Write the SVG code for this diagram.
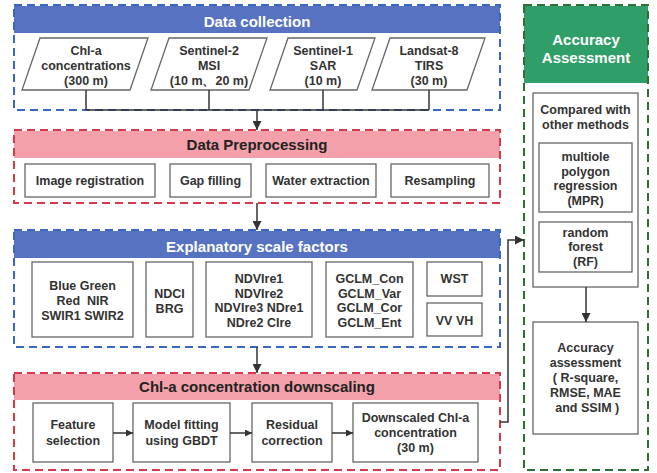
<svg xmlns="http://www.w3.org/2000/svg" width="657" height="473" viewBox="0 0 657 473">
<defs>
<style>
.bg{fill:#ffffff}
.dblue{fill:none;stroke:#3a66c4;stroke-width:2;stroke-dasharray:8,5}
.dred{fill:none;stroke:#d63a4a;stroke-width:2;stroke-dasharray:8,5}
.dgreen{fill:none;stroke:#2d7035;stroke-width:2;stroke-dasharray:8,5}
.hblue{fill:#5672c1}
.hpink{fill:#f3a0ab}
.hgreen{fill:#2f9e68}
.box{fill:#ffffff;stroke:#666666;stroke-width:1.3}
.t{font-family:"Liberation Sans",Arial,sans-serif;font-weight:bold;font-size:12.5px;fill:#333333;text-anchor:middle}
.hw{font-family:"Liberation Sans",Arial,sans-serif;font-weight:bold;font-size:15px;fill:#ffffff;text-anchor:middle}
.hk{font-family:"Liberation Sans",Arial,sans-serif;font-weight:bold;font-size:15px;fill:#222222;text-anchor:middle}
.ln{fill:none;stroke:#333333;stroke-width:1.5}
</style>
<marker id="ah" viewBox="0 0 10 10" refX="10" refY="5" markerWidth="7" markerHeight="7" markerUnits="userSpaceOnUse" orient="auto"><path d="M0,0 L10,5 L0,10 z" fill="#333333"/></marker>
<marker id="ahb" viewBox="0 0 10 10" refX="10" refY="5" markerWidth="9" markerHeight="9" markerUnits="userSpaceOnUse" orient="auto"><path d="M0,0 L10,5 L0,10 z" fill="#333333"/></marker>
</defs>
<rect class="bg" x="0" y="0" width="657" height="473"/>

<!-- Section 1: Data collection -->
<g id="data-collection">
<rect class="hblue" x="14" y="6" width="486" height="27"/>
<rect class="dblue" x="14" y="5" width="486" height="105"/>
<text class="hw" x="257" y="27">Data collection</text>
</g>
<g id="chla-conc">
<polygon class="box" points="40,38 148,38 130,90 22,90"/>
<text class="t" x="86" y="55">Chl-a</text>
<text class="t" x="86" y="70">concentrations</text>
<text class="t" x="86" y="85">(300 m)</text>
</g>
<g id="sentinel2">
<polygon class="box" points="169,38 267,38 249,90 151,90"/>
<text class="t" x="209" y="55">Sentinel-2</text>
<text class="t" x="209" y="70">MSI</text>
<text class="t" x="209" y="85">(10 m、20 m)</text>
</g>
<g id="sentinel1">
<polygon class="box" points="288,38 375,38 357,90 270,90"/>
<text class="t" x="323" y="55">Sentinel-1</text>
<text class="t" x="323" y="70">SAR</text>
<text class="t" x="323" y="85">(10 m)</text>
</g>
<g id="landsat8">
<polygon class="box" points="390,38 485,38 467,90 372,90"/>
<text class="t" x="429" y="55">Landsat-8</text>
<text class="t" x="429" y="70">TIRS</text>
<text class="t" x="429" y="85">(30 m)</text>
</g>

<!-- Section 2: Data Preprocessing -->
<g id="data-preprocessing">
<rect class="hpink" x="14" y="131" width="486" height="27"/>
<rect class="dred" x="14" y="130" width="486" height="73"/>
<text class="hk" x="257" y="150">Data Preprocessing</text>
</g>
<g id="image-registration">
<rect class="box" x="25" y="164" width="130" height="33"/>
<text class="t" x="90" y="185">Image registration</text>
</g>
<g id="gap-filling">
<rect class="box" x="170" y="164" width="81" height="33"/>
<text class="t" x="210.5" y="185">Gap filling</text>
</g>
<g id="water-extraction">
<rect class="box" x="266" y="164" width="110" height="33"/>
<text class="t" x="321" y="185">Water extraction</text>
</g>
<g id="resampling">
<rect class="box" x="391" y="164" width="98" height="33"/>
<text class="t" x="440" y="185">Resampling</text>
</g>

<!-- Section 3: Explanatory scale factors -->
<g id="explanatory-scale-factors">
<rect class="hblue" x="14" y="231" width="486" height="27"/>
<rect class="dblue" x="14" y="230" width="486" height="117"/>
<text class="hw" x="257" y="252">Explanatory scale factors</text>
</g>
<g id="bands">
<rect class="box" x="32" y="262" width="101" height="75"/>
<text class="t" x="82.5" y="290">Blue Green</text>
<text class="t" x="82.5" y="305" xml:space="preserve">Red  NIR</text>
<text class="t" x="82.5" y="320">SWIR1 SWIR2</text>
</g>
<g id="ndci-brg">
<rect class="box" x="146" y="262" width="47" height="75"/>
<text class="t" x="169.5" y="298">NDCI</text>
<text class="t" x="169.5" y="313">BRG</text>
</g>
<g id="red-edge">
<rect class="box" x="206" y="262" width="106" height="75"/>
<text class="t" x="259" y="283">NDVIre1</text>
<text class="t" x="259" y="298">NDVIre2</text>
<text class="t" x="259" y="312">NDVIre3 NDre1</text>
<text class="t" x="259" y="327">NDre2 CIre</text>
</g>
<g id="glcm">
<rect class="box" x="326" y="262" width="87" height="75"/>
<text class="t" x="369.5" y="283">GCLM_Con</text>
<text class="t" x="369.5" y="298">GCLM_Var</text>
<text class="t" x="369.5" y="312">GCLM_Cor</text>
<text class="t" x="369.5" y="327">GCLM_Ent</text>
</g>
<g id="wst">
<rect class="box" x="427" y="262" width="55" height="34"/>
<text class="t" x="454.5" y="283">WST</text>
</g>
<g id="vv-vh">
<rect class="box" x="427" y="303" width="55" height="33"/>
<text class="t" x="454.5" y="325">VV VH</text>
</g>

<!-- Section 4: Chl-a concentration downscaling -->
<g id="downscaling">
<rect class="hpink" x="14" y="374" width="486" height="26"/>
<rect class="dred" x="14" y="373" width="486" height="97"/>
<text class="hk" x="257" y="392">Chl-a concentration downscaling</text>
</g>
<g id="feature-selection">
<rect class="box" x="33" y="403" width="80" height="59"/>
<text class="t" x="73" y="429">Feature</text>
<text class="t" x="73" y="445">selection</text>
</g>
<g id="model-fitting">
<rect class="box" x="133" y="403" width="97" height="59"/>
<text class="t" x="181.5" y="429">Model fitting</text>
<text class="t" x="181.5" y="445">using GBDT</text>
</g>
<g id="residual-correction">
<rect class="box" x="252" y="403" width="80" height="59"/>
<text class="t" x="292" y="429">Residual</text>
<text class="t" x="292" y="445">correction</text>
</g>
<g id="downscaled-chla">
<rect class="box" x="353" y="403" width="125" height="59"/>
<text class="t" x="415.5" y="422">Downscaled Chl-a</text>
<text class="t" x="415.5" y="437">concentration</text>
<text class="t" x="415.5" y="452">(30 m)</text>
</g>

<!-- Accuracy Assessment -->
<g id="accuracy-assessment">
<rect class="hgreen" x="524" y="6" width="124" height="77"/>
<rect class="dgreen" x="524" y="5" width="124" height="465"/>
<text class="hw" x="586" y="45">Accuracy</text>
<text class="hw" x="586" y="63">Assessment</text>
</g>
<g id="compared-methods">
<rect class="box" x="533" y="93" width="105" height="194"/>
<text class="t" x="585.5" y="114">Compared with</text>
<text class="t" x="585.5" y="129">other methods</text>
</g>
<g id="mpr">
<rect class="box" x="539" y="143" width="93" height="69"/>
<text class="t" x="585.5" y="161">multiole</text>
<text class="t" x="585.5" y="176">polygon</text>
<text class="t" x="585.5" y="190">regression</text>
<text class="t" x="585.5" y="205">(MPR)</text>
</g>
<g id="rf">
<rect class="box" x="539" y="222" width="93" height="50"/>
<text class="t" x="585.5" y="237">random</text>
<text class="t" x="585.5" y="251">forest</text>
<text class="t" x="585.5" y="266">(RF)</text>
</g>
<g id="accuracy-box">
<rect class="box" x="533" y="322" width="105" height="112"/>
<text class="t" x="585.5" y="352">Accuracy</text>
<text class="t" x="585.5" y="367">assessment</text>
<text class="t" x="585.5" y="382">( R-square,</text>
<text class="t" x="585.5" y="397">RMSE, MAE</text>
<text class="t" x="585.5" y="412" xml:space="preserve"> and SSIM )</text>
</g>

<!-- Connectors -->
<g id="connectors">
<path class="ln" d="M86,90 V110 M209,90 V110 M323,90 V110 M429,90 V110 M86,110 H429"/>
<path class="ln" d="M257,110 V130" marker-end="url(#ahb)"/>
<path class="ln" d="M257,203 V230" marker-end="url(#ahb)"/>
<path class="ln" d="M257,347 V373" marker-end="url(#ahb)"/>
<path class="ln" d="M113,433 H133" marker-end="url(#ah)"/>
<path class="ln" d="M230,433 H252" marker-end="url(#ah)"/>
<path class="ln" d="M332,433 H353" marker-end="url(#ah)"/>
<path class="ln" d="M500,422 H508 V240 H524" marker-end="url(#ahb)"/>
<path class="ln" d="M586,287 V322" marker-end="url(#ahb)"/>
</g>
</svg>
